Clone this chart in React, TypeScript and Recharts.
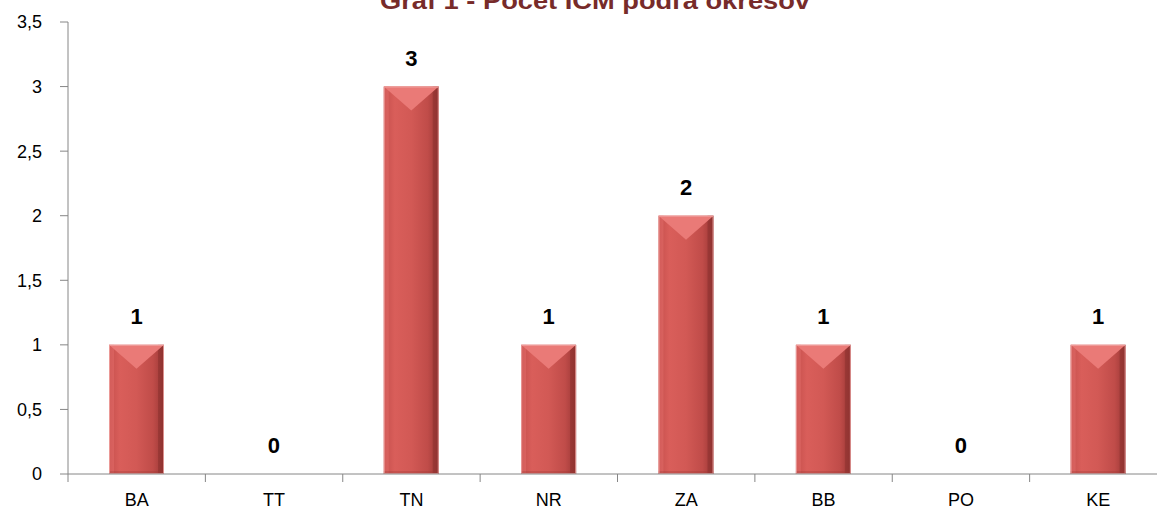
import { BarChart, Bar, XAxis, YAxis, LabelList } from 'recharts';

const regions = ['BA', 'TT', 'TN', 'NR', 'ZA', 'BB', 'PO', 'KE'];
const counts = [1, 0, 3, 1, 2, 1, 0, 1];
const yTicks = [0, 0.5, 1, 1.5, 2, 2.5, 3, 3.5];
const title = 'Graf 1 - Počet ICM podľa okresov';

// categories sit at the middle of slots 0..8 on a numeric axis,
// so the tick marks can fall on the slot boundaries like in Excel
const chartData = regions.map((r, i) => ({ region: r, pos: i + 0.5, count: counts[i] }));
const xTicks = regions.flatMap((_, i) => [i, i + 0.5]).concat(regions.length);

const axisColor = '#868686';
const font = '"Liberation Sans", Arial, sans-serif';
const labelGap = 19;

function XTick(props: any) {
  const { x, y, payload } = props;
  const v = payload.value;
  const axisY = y - labelGap;
  if (Number.isInteger(v)) {
    return <line x1={x} x2={x} y1={axisY} y2={axisY + 8} stroke={axisColor} />;
  }
  return (
    <text x={x} y={y} dy="0.71em" textAnchor="middle" fill="#000" fontSize={18} fontFamily={font}>
      {regions[Math.floor(v)]}
    </text>
  );
}

// bevelled red bar, like the Excel "angle" bevel
function BevelBar(props: any) {
  const { x, y, width, height } = props;
  if (!height || height <= 0) return null;
  const d = Math.min(24, height);
  const mid = x + width / 2;
  return (
    <g>
      <rect x={x} y={y} width={width} height={height} fill="url(#barGrad)" />
      <rect x={x} y={y} width={5} height={height} fill="#e87470" opacity={0.4} />
      <rect x={x + width - 6} y={y} width={6} height={height} fill="#7e2a28" opacity={0.4} />
      <polygon points={`${x},${y} ${x + width},${y} ${mid},${y + d}`} fill="#ea7a77" />
      <rect x={x} y={y + height - 3} width={width} height={3} fill="#9c3836" opacity={0.3} />
      <rect x={x + 0.5} y={y + 0.5} width={width - 1} height={height - 1} fill="none" stroke="#f0a7a5" strokeWidth={1} opacity={0.8} />
    </g>
  );
}

export default function App() {
  return (
    <div style={{ position: 'fixed', left: 0, top: 0, width: 1157, height: 517, overflow: 'hidden', background: '#fff' }}>
      <svg width={1157} height={20} style={{ position: 'absolute', left: 0, top: 0 }}>
        <text x={380} y={9} textLength={430} lengthAdjust="spacingAndGlyphs" fontFamily={font} fontWeight="bold" fontSize={24} fill="#772b2a">
          {title}
        </text>
      </svg>
      <BarChart width={1172} height={517} data={chartData} margin={{ top: 22, right: 5, bottom: 0, left: 0 }}>
        <defs>
          <linearGradient id="barGrad" x1="0" y1="0" x2="1" y2="0">
            <stop offset="0" stopColor="#c54f4c" />
            <stop offset="0.2" stopColor="#d95e5a" />
            <stop offset="0.5" stopColor="#d25955" />
            <stop offset="0.8" stopColor="#c04c49" />
            <stop offset="1" stopColor="#9a3735" />
          </linearGradient>
        </defs>
        <XAxis
          type="number"
          dataKey="pos"
          domain={[0, regions.length]}
          ticks={xTicks}
          interval={0}
          tickLine={false}
          tickSize={0}
          tickMargin={labelGap}
          tick={XTick}
          height={43}
          stroke={axisColor}
        />
        <YAxis
          domain={[0, 3.5]}
          ticks={yTicks}
          width={68}
          tickSize={8}
          tickMargin={18}
          stroke={axisColor}
          tick={{ fill: '#000', fontSize: 18, fontFamily: font }}
          tickFormatter={(v: number) => String(v).replace('.', ',')}
          interval={0}
        />
        <Bar dataKey="count" barSize={55} shape={BevelBar} isAnimationActive={false}>
          <LabelList dataKey="count" position="top" offset={21} fill="#000" fontSize={22} fontWeight="bold" fontFamily={font} />
        </Bar>
      </BarChart>
    </div>
  );
}
